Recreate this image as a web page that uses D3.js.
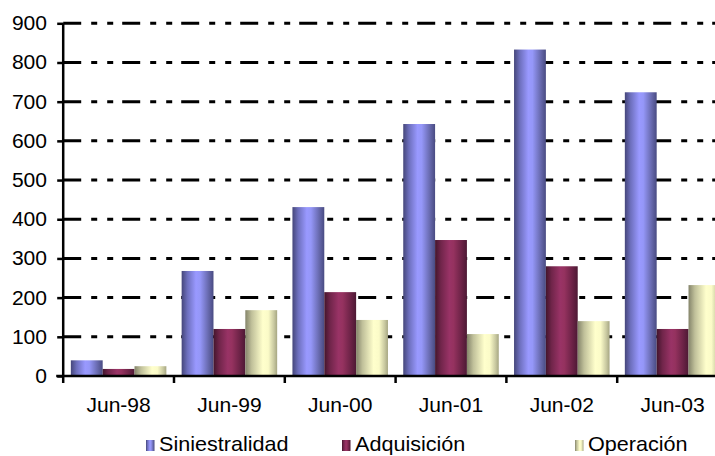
<!DOCTYPE html>
<html>
<head>
<meta charset="utf-8">
<script src="https://cdn.jsdelivr.net/npm/d3@7"></script>
<style>
  html, body { margin: 0; padding: 0; background: #fff; }
  svg { display: block; }
  text { font-family: "Liberation Sans", Arial, sans-serif; fill: #000; }
</style>
</head>
<body>
<svg id="chart" width="715" height="456"></svg>
<script>
// Periods on the x axis
const categories = ["Jun-98", "Jun-99", "Jun-00", "Jun-01", "Jun-02", "Jun-03"];
// Series names (legend order)
const seriesNames = ["Siniestralidad", "Adquisición", "Operación"];
// Values per series, one per period
const siniestralidad = [40, 268, 431, 643, 833, 724];
const adquisicion    = [18, 120, 214, 347, 280, 120];
const operacion      = [25, 168, 143, 107, 140, 232];
// Y axis ticks
const yTicks = [0, 100, 200, 300, 400, 500, 600, 700, 800, 900];

const seriesValues = [siniestralidad, adquisicion, operacion];

const svg = d3.select("#chart");
const plotLeft = 63.2, plotRight = 728, plotTop = 23.3, plotBottom = 376;
const axisFont = 19.5, legendFont = 20, stretch = 1.08;

// Horizontal cylinder-like shading for each series
const shades = [
  [["0%", "#45467a"], ["18%", "#6d6fbd"], ["45%", "#9999ff"], ["58%", "#9597f8"], ["85%", "#6567aa"], ["100%", "#494b82"]],
  [["0%", "#43152c"], ["18%", "#70254a"], ["45%", "#993366"], ["58%", "#95325f"], ["85%", "#682144"], ["100%", "#4d1934"]],
  [["0%", "#84846a"], ["20%", "#c0c09a"], ["55%", "#ffffcc"], ["72%", "#fbfbc8"], ["90%", "#c8c8a0"], ["100%", "#a6a682"]]
];
const defs = svg.append("defs");
shades.forEach((stops, i) => {
  const g = defs.append("linearGradient").attr("id", "shade" + i)
    .attr("x1", "0%").attr("x2", "100%").attr("y1", "0%").attr("y2", "0%");
  stops.forEach(s => g.append("stop").attr("offset", s[0]).attr("stop-color", s[1]));
});

const x = d3.scaleBand().domain(categories).range([plotLeft, plotRight]).paddingInner(0).paddingOuter(0);
const xs = d3.scaleBand().domain(seriesNames).range([0, x.bandwidth()]).paddingInner(0).paddingOuter(0.24);
const y = d3.scaleLinear().domain([0, 900]).range([plotBottom, plotTop]);

function label(sel, tx, ty, anchor, str, size) {
  return sel.append("text")
    .attr("transform", `translate(${tx},${ty}) scale(${stretch},1)`)
    .attr("text-anchor", anchor)
    .style("font-size", size + "px")
    .text(str);
}

// Dash-dot gridlines
svg.append("g").selectAll("line")
  .data(yTicks.filter(d => d > 0))
  .join("line")
  .attr("x1", plotLeft).attr("x2", 715)
  .attr("y1", d => y(d)).attr("y2", d => y(d))
  .attr("stroke", "#000").attr("stroke-width", 3)
  .attr("stroke-dasharray", "18,10,6,10,6,9");

// Bars
const groups = svg.append("g").selectAll("g")
  .data(categories)
  .join("g")
  .attr("transform", d => `translate(${x(d)},0)`);

groups.selectAll("rect")
  .data((c, ci) => seriesNames.map((s, si) => ({ s, si, v: seriesValues[si][ci] })))
  .join("rect")
  .attr("x", d => xs(d.s))
  .attr("width", xs.bandwidth())
  .attr("y", d => y(d.v))
  .attr("height", d => y(0) - y(d.v))
  .attr("fill", d => `url(#shade${d.si})`);

// Axes
const yAxis = d3.axisLeft(y).tickValues(yTicks).tickSize(6).tickFormat("");
const gy = svg.append("g").attr("transform", `translate(${plotLeft},0)`).call(yAxis);
gy.select(".domain").attr("d", `M0,${plotTop}V${plotBottom + 7}`).attr("stroke-width", 2.5);
gy.selectAll(".tick line").attr("stroke-width", 2.5);

const xAxis = d3.axisBottom(x).tickSize(0).tickFormat("");
const gx = svg.append("g").attr("transform", `translate(0,${plotBottom})`).call(xAxis);
gx.select(".domain").attr("d", `M${plotLeft - 7},0H${plotRight}`).attr("stroke-width", 2.5);
gx.selectAll(".tick").remove();
// Tick marks between periods
gx.selectAll("line.sep")
  .data(categories.slice(1))
  .join("line")
  .attr("class", "sep")
  .attr("x1", d => x(d)).attr("x2", d => x(d))
  .attr("y1", 0).attr("y2", 7)
  .attr("stroke", "#000").attr("stroke-width", 2.5);

// Y tick labels
yTicks.forEach(t => label(svg, 47, y(t) + 6.9, "end", t, axisFont));

// X category labels
categories.forEach(c => label(svg, x(c) + x.bandwidth() / 2, 412, "middle", c, axisFont));

// Legend
const legendX = [146, 342, 575];
seriesNames.forEach((s, i) => {
  svg.append("rect")
    .attr("x", legendX[i]).attr("y", 440)
    .attr("width", 8.5).attr("height", 11)
    .attr("fill", `url(#shade${i})`);
  label(svg, legendX[i] + 13, 451, "start", s, legendFont);
});
</script>
</body>
</html>
